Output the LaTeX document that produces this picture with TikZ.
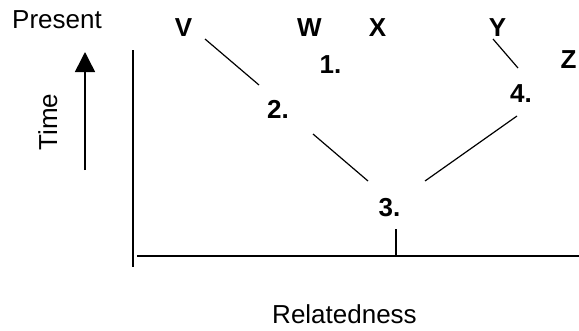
\documentclass[tikz,border=0pt]{standalone}
\usepackage{fontspec}
\setmainfont{Liberation Sans}
\usetikzlibrary{arrows.meta}
\begin{document}
\begin{tikzpicture}[x=1pt, y=-1pt, >={Triangle[width=20pt,length=20pt]},
    axislabel/.style={anchor=base, inner sep=0pt, font=\fontsize{26}{30}\selectfont},
    taxon/.style={anchor=base, inner sep=0pt, font=\fontsize{26}{30}\selectfont\bfseries},
    branch/.style={line width=1.2pt}]
\useasboundingbox (0,0) rectangle (579,330);

    % Label sumbu
    \node[axislabel] (present) at (57,28.5) {Present};
    \node[axislabel, rotate=90] (time) at (57,122) {Time};
    \node[axislabel] (related) at (344.5,323) {Relatedness};

    % Spesies di atas
    \node[taxon] (v) at (183.5,36) {V};
    \node[taxon] (w) at (309.5,36) {W};
    \node[taxon] (x) at (377.5,36) {X};
    \node[taxon] (y) at (497.5,36) {Y};
    \node[taxon] (z) at (568.5,68) {Z};

    % Titik percabangan
    \node[taxon] (n1) at (330.5,73) {1.};
    \node[taxon] (n2) at (278,118) {2.};
    \node[taxon] (n3) at (389.5,216) {3.};
    \node[taxon] (n4) at (521,102) {4.};

    % Sumbu dan panah waktu
    \draw[line width=1.5pt] (133,50) -- (133,267);
    \draw[line width=2pt] (137,256) -- (579,256);
    \coordinate (root) at (396,256);
    \draw[->, line width=1.5pt] (85,170) -- (85,52);

    % Cabang
    \draw[branch] ([shift={(21.5,3)}]v.base) -- ([shift={(-19,-33)}]n2.base);
    \draw[branch] ([shift={(-4.5,3)}]y.base) -- ([shift={(-3,-34)}]n4.base);
    \draw[branch] ([shift={(35,16)}]n2.base) -- ([shift={(-21.5,-35)}]n3.base);
    \draw[branch] ([shift={(-4,14)}]n4.base) -- ([shift={(35.5,-35)}]n3.base);
    \draw[line width=1.5pt] ([shift={(6.5,13)}]n3.base) -- (root);

\end{tikzpicture}
\end{document}
